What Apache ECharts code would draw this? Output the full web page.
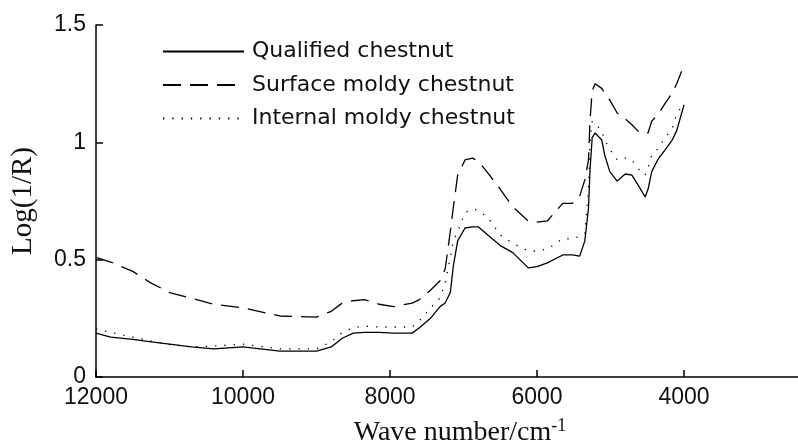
<!DOCTYPE html>
<html>
<head>
<meta charset="utf-8">
<script src="https://cdn.jsdelivr.net/npm/echarts@6/dist/echarts.min.js"></script>
<style>html,body{margin:0;padding:0;background:#fff;}#c{width:798px;height:441px;}</style>
</head>
<body>
<div id="c"></div>
<script>
const wavenumbers = [12000, 11800, 11500, 11250, 11000, 10700, 10400, 10000, 9500, 9000, 8800, 8650, 8500, 8350, 8150, 7950, 7700, 7600, 7450, 7320, 7250, 7180, 7140, 7080, 6980, 6880, 6800, 6670, 6500, 6330, 6120, 6000, 5860, 5650, 5520, 5420, 5350, 5300, 5280, 5250, 5210, 5120, 5080, 5010, 4910, 4800, 4710, 4600, 4530, 4490, 4440, 4350, 4260, 4160, 4100, 4000];
const qualified = [0.187, 0.17, 0.16, 0.15, 0.14, 0.128, 0.12, 0.128, 0.11, 0.11, 0.128, 0.165, 0.187, 0.19, 0.19, 0.187, 0.187, 0.21, 0.25, 0.30, 0.315, 0.36, 0.47, 0.58, 0.635, 0.64, 0.64, 0.605, 0.56, 0.53, 0.465, 0.47, 0.486, 0.52, 0.52, 0.515, 0.58, 0.72, 0.88, 1.02, 1.04, 1.01, 0.946, 0.875, 0.835, 0.865, 0.86, 0.805, 0.767, 0.80, 0.875, 0.93, 0.967, 1.01, 1.05, 1.16];
const surfaceMoldy = [0.51, 0.49, 0.45, 0.40, 0.36, 0.335, 0.31, 0.295, 0.26, 0.255, 0.28, 0.315, 0.325, 0.33, 0.31, 0.30, 0.315, 0.33, 0.37, 0.41, 0.46, 0.62, 0.72, 0.86, 0.925, 0.933, 0.92, 0.87, 0.80, 0.725, 0.665, 0.66, 0.665, 0.74, 0.74, 0.77, 0.84, 0.925, 1.09, 1.22, 1.25, 1.23, 1.21, 1.18, 1.125, 1.10, 1.075, 1.04, 1.04, 1.04, 1.09, 1.12, 1.165, 1.21, 1.25, 1.33];
const internalMoldy = [0.205, 0.19, 0.17, 0.153, 0.138, 0.128, 0.132, 0.14, 0.12, 0.12, 0.15, 0.19, 0.21, 0.217, 0.213, 0.213, 0.213, 0.24, 0.294, 0.337, 0.40, 0.51, 0.58, 0.62, 0.70, 0.716, 0.71, 0.68, 0.605, 0.57, 0.537, 0.537, 0.545, 0.59, 0.588, 0.60, 0.61, 0.80, 1.0, 1.09, 1.08, 1.05, 1.01, 0.97, 0.925, 0.933, 0.925, 0.88, 0.86, 0.89, 0.945, 0.975, 1.02, 1.06, 1.12, 1.17];
const seriesNames = ['Qualified chestnut', 'Surface moldy chestnut', 'Internal moldy chestnut'];
const xTicks = [12000, 10000, 8000, 6000, 4000];

const zip = ys => wavenumbers.map((w, i) => [w, ys[i]]);
const chart = echarts.init(document.getElementById('c'), null, {renderer: 'canvas'});
const sans = 'Liberation Sans, Arial, sans-serif';
const serif = 'Liberation Serif, Times New Roman, serif';
const mkLine = (name, ys, type) => ({
  name, type: 'line', data: zip(ys), showSymbol: false, symbol: 'none',
  lineStyle: {color: '#000', width: 1.3, type},
  itemStyle: {color: '#000'}, animation: false
});
chart.setOption({
  animation: false,
  backgroundColor: '#fff',
  grid: {left: 96, top: 25, bottom: 64, right: 0, containLabel: false, outerBoundsMode: 'none'},
  legend: {
    orient: 'vertical', left: 157, top: 35, itemWidth: 81, itemHeight: 14, itemGap: 10.5,
    icon: 'inherit',
    itemStyle: {opacity: 0, borderWidth: 0},
    textStyle: {fontFamily: 'DejaVu Sans, sans-serif', fontSize: 22, color: '#111', lineHeight: 23, padding: [0,0,0,3]},
    data: seriesNames
  },
  xAxis: {
    type: 'value', inverse: true, min: 2450, max: 12000,
    axisLine: {lineStyle: {color: '#000', width: 1.5}},
    axisTick: {inside: true, length: 7, customValues: xTicks, lineStyle: {color: '#000', width: 1.5}},
    axisLabel: {fontFamily: sans, fontSize: 23, color: '#111', margin: 9, customValues: xTicks,
      formatter: v => String(v)},
    splitLine: {show: false},
    name: 'Wave number/cm{sup|-1}', nameLocation: 'middle', nameGap: 40,
    nameTextStyle: {fontFamily: serif, fontSize: 28, color: '#111', padding: [0,0,0,26],
      rich: {sup: {fontFamily: serif, fontSize: 18, color: '#111', padding: [0,0,14,0]}}}
  },
  yAxis: {
    type: 'value', min: 0, max: 1.5, interval: 0.5,
    axisLine: {show: true, lineStyle: {color: '#000', width: 1.5}},
    axisTick: {show: true, inside: true, length: 7, lineStyle: {color: '#000', width: 1.5}},
    axisLabel: {fontFamily: sans, fontSize: 23, color: '#111', margin: 10},
    splitLine: {show: false},
    name: 'Log(1/R)', nameLocation: 'middle', nameGap: 58,
    nameTextStyle: {fontFamily: serif, fontSize: 29, color: '#111'}
  },
  series: [
    mkLine(seriesNames[0], qualified, 'solid'),
    mkLine(seriesNames[1], surfaceMoldy, [18, 9]),
    mkLine(seriesNames[2], internalMoldy, [1.3, 8])
  ]
});
</script>
</body>
</html>
